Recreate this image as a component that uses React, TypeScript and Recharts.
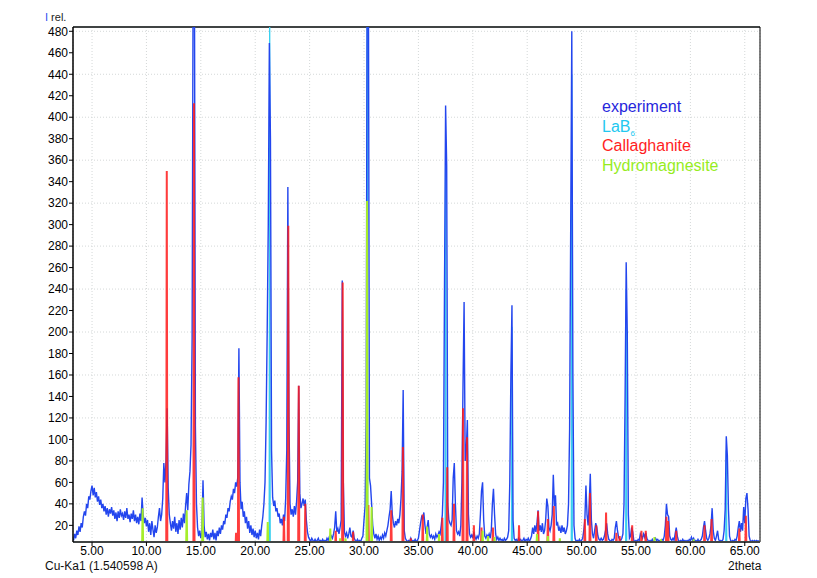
import React from 'react';
import { LineChart, Line, XAxis, YAxis, CartesianGrid, ReferenceLine } from 'recharts';

// plot window (2theta, I rel.)
const X_MIN = 3.25;
const X_MAX = 66.4;
const Y_MIN = 4.5;
const Y_MAX = 484;

const xTicks = [5, 10, 15, 20, 25, 30, 35, 40, 45, 50, 55, 60, 65];
const yTicks = [20, 40, 60, 80, 100, 120, 140, 160, 180, 200, 220, 240, 260, 280, 300, 320, 340, 360, 380, 400, 420, 440, 460, 480];

// measured pattern, one value every 0.1 deg starting at 3.3
const EXP_START = 3.3;
const EXP_STEP = 0.1;
const experimentCounts = [
  6, 12, 8, 15, 11, 19, 14, // 3.3
  22, 18, 28, 33, 29, 40, 36, 47, 44, 52, // 4
  57, 48, 55, 46, 51, 42, 47, 39, 44, 36, // 5
  40, 33, 38, 30, 36, 28, 35, 31, 37, 29, // 6
  34, 26, 32, 24, 33, 27, 35, 29, 31, 25, // 7
  33, 27, 36, 26, 30, 23, 31, 26, 34, 24, // 8
  30, 22, 28, 21, 31, 24, 46, 30, 22, 27, // 9
  19, 25, 14, 22, 11, 24, 16, 9, 20, 13, // 10
  18, 28, 36, 24, 30, 45, 78, 60, 80, 129, // 11
  55, 30, 22, 15, 24, 17, 28, 14, 22, 12, // 12
  25, 16, 27, 18, 31, 22, 38, 50, 34, 58, // 13
  70, 95, 195, 560, 600, 113, 40, 18, 10, 15, // 14
  8, 14, 62, 20, 9, 14, 7, 12, 6, 13, // 15
  9, 16, 7, 13, 6, 15, 10, 18, 12, 20, // 16
  16, 24, 21, 30, 27, 36, 33, 42, 47, 44, // 17
  54, 50, 60, 56, 65, 185, 60, 35, 42, 28, // 18
  33, 22, 28, 17, 24, 13, 20, 11, 17, 9, // 19
  15, 8, 13, 7, 16, 10, 20, 28, 40, 60, // 20
  116, 200, 300, 469, 380, 90, 46, 38, 43, 33, // 21
  36, 28, 31, 22, 26, 20, 30, 24, 45, 90, // 22
  335, 120, 40, 30, 35, 28, 38, 30, 42, 60, // 23
  150, 50, 36, 40, 45, 38, 44, 25, 14, 9, // 24
  7, 5, 8, 6, 5, 7, 5, 6, 8, 5, // 25
  6, 5, 7, 5, 6, 5, 8, 6, 9, 7, // 26
  10, 8, 12, 18, 33, 14, 17, 12, 18, 25, // 27
  248, 60, 14, 10, 13, 8, 12, 18, 10, 9, // 28
  15, 8, 6, 5, 7, 5, 6, 5, 8, 10, // 29
  25, 38, 120, 600, 560, 64, 57, 40, 20, 12, // 30
  8, 12, 7, 10, 6, 9, 7, 11, 8, 13, // 31
  10, 15, 20, 28, 35, 52, 30, 22, 18, 24, // 32
  20, 26, 22, 30, 45, 70, 146, 15, 8, 6, // 33
  5, 6, 5, 8, 5, 6, 5, 7, 5, 6, // 34
  8, 15, 22, 28, 26, 32, 20, 12, 18, 25, // 35
  12, 9, 11, 8, 10, 7, 12, 9, 11, 14, // 36
  12, 20, 30, 60, 243, 411, 355, 40, 25, 22, // 37
  20, 25, 64, 78, 40, 15, 12, 14, 10, 20, // 38
  60, 150, 228, 80, 90, 118, 30, 12, 9, 11, // 39
  8, 14, 9, 7, 10, 8, 12, 30, 52, 60, // 40
  25, 10, 8, 11, 9, 12, 8, 15, 40, 54, // 41
  30, 12, 7, 9, 6, 8, 6, 7, 5, 8, // 42
  6, 7, 9, 15, 60, 160, 225, 25, 8, 6, // 43
  7, 5, 8, 6, 7, 5, 6, 8, 5, 7, // 44
  6, 8, 5, 7, 10, 18, 12, 20, 14, 22, // 45
  34, 15, 20, 14, 22, 12, 15, 25, 45, 38, // 46
  18, 15, 20, 30, 67, 38, 48, 20, 22, 15, // 47
  18, 13, 20, 14, 18, 12, 15, 20, 40, 110, // 48
  300, 480, 160, 20, 8, 5, 6, 5, 7, 5, // 49
  6, 8, 15, 25, 57, 30, 20, 40, 68, 25, // 50
  12, 8, 15, 22, 18, 10, 7, 6, 8, 6, // 51
  7, 10, 15, 22, 12, 7, 6, 5, 7, 6, // 52
  8, 18, 24, 15, 9, 7, 6, 8, 12, 40, // 53
  140, 265, 200, 30, 8, 10, 18, 14, 6, 5, // 54
  6, 5, 7, 6, 12, 10, 8, 12, 9, 13, // 55
  8, 6, 5, 6, 5, 7, 5, 6, 8, 6, // 56
  7, 5, 6, 5, 7, 6, 10, 20, 40, 30, // 57
  28, 10, 7, 6, 8, 6, 12, 18, 10, 6, // 58
  5, 6, 5, 7, 5, 6, 5, 6, 5, 7, // 59
  6, 9, 6, 8, 5, 6, 5, 7, 5, 6, // 60
  7, 10, 18, 24, 15, 8, 6, 8, 12, 20, // 61
  36, 15, 8, 6, 10, 15, 7, 5, 6, 5, // 62
  7, 15, 35, 103, 85, 35, 10, 6, 5, 6, // 63
  5, 7, 6, 10, 18, 24, 14, 22, 15, 37, // 64
  22, 45, 50, 35, 10, 6, 5, 6, 5, 6, // 65
  5, 6, 5, 6, // 66
];

// calculated reference patterns (peak position, intensity)
const lab6Pos = [21.33, 30.3, 37.5, 43.6, 49.1, 54.1, 63.3];
const lab6Int = [560, 560, 360, 205, 440, 240, 90];

const callaghanitePos = [11.87, 14.37, 18.24, 18.46, 22.64, 23.04, 24.0, 24.6, 27.4, 28.04, 29.0, 30.4, 32.5, 33.58, 34.3, 35.4, 37.2, 37.65, 38.27, 39.1, 39.47, 40.1, 40.8, 41.85, 44.25, 46.0, 46.9, 47.45, 50.3, 50.77, 51.35, 52.25, 53.2, 53.5, 54.65, 55.5, 55.9, 57.8, 57.95, 58.7, 61.3, 61.95, 64.5, 65.1];
const callaghaniteInt = [350, 413, 13, 158, 28, 299, 150, 40, 15, 246, 14, 39, 34, 93, 8, 30, 27, 74, 40, 129, 102, 20, 18, 18, 20, 33, 26, 38, 26, 50, 20, 32, 13, 10, 20, 15, 15, 28, 24, 15, 20, 26, 17, 29];

const hydromagnesitePos = [9.65, 13.7, 15.17, 21.15, 26.9, 27.8, 28.3, 30.28, 30.7, 35.8, 36.9, 40.9, 41.4, 42.0, 45.9, 46.9, 48.0, 56.7, 57.3, 60.3];
const hydromagnesiteInt = [36, 34, 46, 23, 17, 8, 8, 322, 37, 19, 12, 15, 10, 9, 12, 10, 8, 9, 7, 7];

const experimentData = experimentCounts.map((y, i) => ({ x: +(EXP_START + i * EXP_STEP).toFixed(2), y }));

function sticks(pos: number[], ints: number[]) {
  const pts: { x: number; y: number }[] = [];
  pos.forEach((p, i) => {
    pts.push({ x: p - 0.05, y: 0 }, { x: p, y: ints[i] }, { x: p + 0.05, y: 0 });
  });
  return pts;
}

const lab6Data = sticks(lab6Pos, lab6Int);
const callaghaniteData = sticks(callaghanitePos, callaghaniteInt);
const hydromagnesiteData = sticks(hydromagnesitePos, hydromagnesiteInt);

const FONT = '"Liberation Sans", Arial, sans-serif';

const legendItems = [
  { label: 'experiment', color: '#2626dc' },
  { label: 'LaB', sub: '6', color: '#22c8f0' },
  { label: 'Callaghanite', color: '#ff1e1e' },
  { label: 'Hydromagnesite', color: '#96ec1e' },
];

export default function App() {
  return (
    <div style={{ position: 'absolute', left: 0, top: 0, width: 817, height: 578, background: '#fff', fontFamily: FONT }}>
      <LineChart width={817} height={578} margin={{ top: 27, right: 57, left: 0, bottom: 0 }}>
        <CartesianGrid stroke="#d4d8d8" strokeDasharray="1 2" />
        <XAxis
          dataKey="x"
          type="number"
          domain={[X_MIN, X_MAX]}
          ticks={xTicks}
          allowDataOverflow
          tickFormatter={(v: number) => v.toFixed(2)}
          height={36}
          tickSize={4}
          tickMargin={0}
          axisLine={{ stroke: '#404444', strokeWidth: 2 }}
          tickLine={{ stroke: '#000' }}
          tick={{ fill: '#000', fontSize: 12, fontFamily: FONT }}
        />
        <YAxis
          type="number"
          domain={[Y_MIN, Y_MAX]}
          ticks={yTicks}
          allowDataOverflow
          width={73}
          tickSize={4}
          tickMargin={1}
          axisLine={{ stroke: '#000', strokeWidth: 1.5 }}
          tickLine={{ stroke: '#000' }}
          tick={{ fill: '#000', fontSize: 12, fontFamily: FONT }}
        />
        <ReferenceLine y={Y_MAX} stroke="#404444" strokeWidth={2} />
        <ReferenceLine x={X_MAX} stroke="#000" strokeWidth={1} />
        <Line data={lab6Data} dataKey="y" stroke="#3ad0f0" strokeWidth={1.2} dot={false} isAnimationActive={false} />
        <Line data={experimentData} dataKey="y" stroke="#2346ee" strokeWidth={1.4} dot={false} isAnimationActive={false} />
        <Line data={callaghaniteData} dataKey="y" stroke="#ff1a1a" strokeOpacity={0.85} strokeWidth={2} dot={false} isAnimationActive={false} />
        <Line data={hydromagnesiteData} dataKey="y" stroke="#a6ee2a" strokeWidth={2} dot={false} isAnimationActive={false} />
      </LineChart>

      <div style={{ position: 'absolute', left: 45, top: 11, fontSize: 11, color: '#222', lineHeight: '12px' }}>
        <span style={{ color: '#3050f0' }}>I</span> rel.
      </div>
      <div style={{ position: 'absolute', left: 45, top: 560, fontSize: 12, color: '#111', lineHeight: '12px' }}>
        Cu-Ka1 (1.540598 A)
      </div>
      <div style={{ position: 'absolute', left: 728, top: 560, fontSize: 12, color: '#111', lineHeight: '12px' }}>
        2theta
      </div>

      <div style={{ position: 'absolute', left: 602, top: 97 }}>
        {legendItems.map((it) => (
          <div key={it.label} style={{ color: it.color, fontSize: 16, lineHeight: '19.5px', height: 19.5 }}>
            {it.label}
            {it.sub && <sub style={{ fontSize: 8, verticalAlign: 'sub' }}>{it.sub}</sub>}
          </div>
        ))}
      </div>
    </div>
  );
}
